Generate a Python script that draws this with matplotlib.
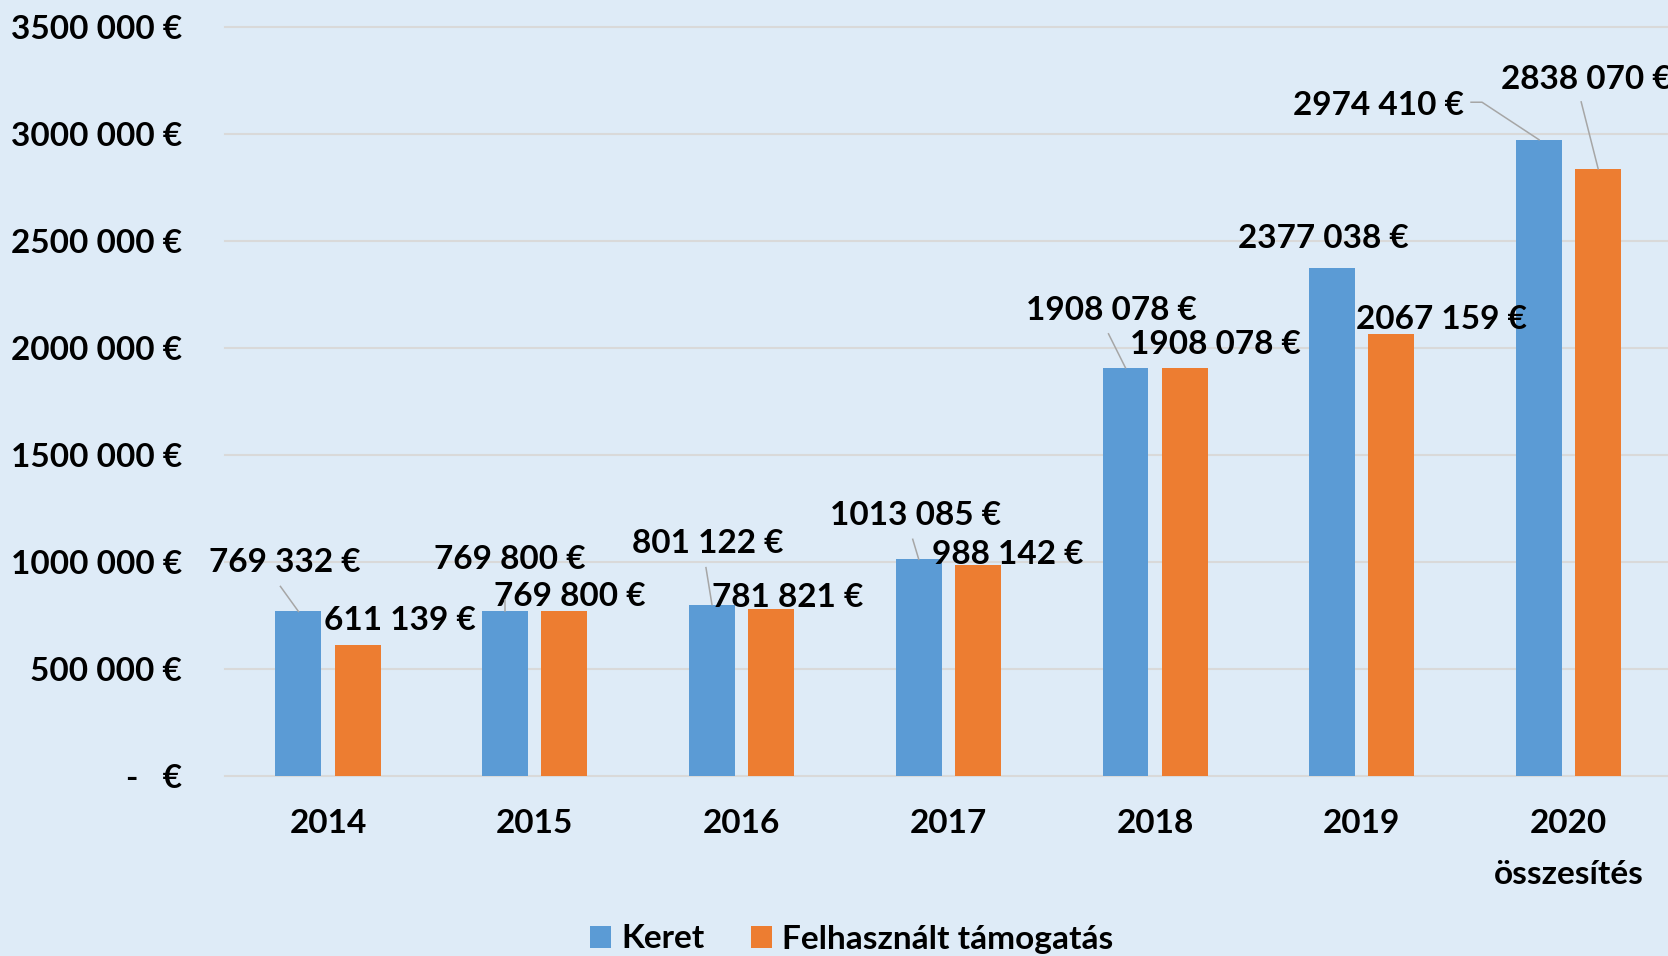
import matplotlib
matplotlib.use("Agg")
import matplotlib.pyplot as plt
import numpy as np
from matplotlib.lines import Line2D
from matplotlib.patches import Patch
from matplotlib.ticker import FuncFormatter, MultipleLocator
from matplotlib.transforms import IdentityTransform

plt.rcParams["font.family"] = ["Lato", "DejaVu Sans"]
plt.rcParams["font.weight"] = "bold"

# ---------------- data ----------------
categories = ["2014", "2015", "2016", "2017", "2018", "2019", "2020\nösszesítés"]
keret = [769332, 769800, 801122, 1013085, 1908078, 2377038, 2974410]
felhasznalt = [611139, 769800, 781821, 988142, 1908078, 2067159, 2838070]
series_names = ["Keret", "Felhasznált támogatás"]

# label offsets in pixels from bar-top centre (+x right, +y down)
keret_label_off = [(-14, -51), (5, -54), (-4, -64), (-3, -46), (-14.5, -60), (-9, -32), (-161, -36.5)]
keret_leaders = [[(-18, -25), (0, 0)], [(0, -11), (0, 0)], [(-6, -37), (0, 0)], [(-6, -20), (0, 0)],
                 [(-17, -34), (0, 0)], None, [(-68, -37.5), (-57, -37.5), (0, 0)]]
felh_label_off = [(42, -27), (5, -17), (17, -14), (30, -13), (31, -26), (50, -17), (-12, -92)]
felh_leaders = [None, None, None, None, None, None, [(-17, -67), (0, 0)]]

BG = "#DEEBF7"
BLUE = "#5B9BD5"
ORANGE = "#ED7D31"
GRID = "#D9D9D9"
LEADER = "#A6A6A6"
FS = 24


def eur(v):
    v = int(round(v))
    if v == 0:
        return "-   €"
    if v >= 1000:
        return f"{v // 1000} {v % 1000:03d} €"
    return f"{v} €"


W, H = 1668, 956
fig = plt.figure(figsize=(W / 100, H / 100), dpi=100, facecolor=BG)
ax = fig.add_axes([224.6 / W, 1 - 776 / H, (1672 - 224.6) / W, (776 - 27.3) / H])
ax.set_facecolor(BG)

x = np.arange(len(categories))
bw, off = 0.222, 0.143
ax.bar(x - off, keret, bw, color=BLUE, zorder=3)
ax.bar(x + off, felhasznalt, bw, color=ORANGE, zorder=3)

ax.set_xlim(-0.5, len(categories) - 0.5)
ax.set_ylim(0, 3500000)
ax.yaxis.set_major_locator(MultipleLocator(500000))
ax.yaxis.set_major_formatter(FuncFormatter(lambda v, p: eur(v)))
ax.grid(axis="y", color=GRID, lw=1.5, zorder=0)
ax.set_axisbelow(True)
for s in ax.spines.values():
    s.set_visible(False)
ax.set_xticks(x, categories)
ax.tick_params(axis="y", length=0, labelsize=FS, pad=30.5)
ax.tick_params(axis="x", length=0, labelsize=FS, pad=24)
for t in ax.get_xticklabels():
    t.set_fontweight("bold")
    t.set_linespacing(1.9)
for t in ax.get_yticklabels():
    t.set_fontweight("bold")
for gl in ax.yaxis.get_gridlines():
    gl.set_clip_on(False)

# data labels
BASE = 12  # baseline shift so digits are centred
for xi, v, (dx, dy) in zip(x - off, keret, keret_label_off):
    ax.annotate(eur(v), xy=(xi, v), xytext=(dx, -(dy + BASE)), textcoords="offset pixels",
                ha="center", va="baseline", fontsize=FS, fontweight="bold", annotation_clip=False, zorder=5)
for xi, v, (dx, dy) in zip(x + off, felhasznalt, felh_label_off):
    ax.annotate(eur(v), xy=(xi, v), xytext=(dx, -(dy + BASE)), textcoords="offset pixels",
                ha="center", va="baseline", fontsize=FS, fontweight="bold", annotation_clip=False, zorder=5)

# leader lines
def draw_leaders(xs, vals, leaders):
    for xi, v, pts in zip(xs, vals, leaders):
        if not pts:
            continue
        bx, by = ax.transData.transform((xi, v))
        px = [bx + p[0] for p in pts]
        py = [by - p[1] for p in pts]
        fig.add_artist(Line2D(px, py, transform=IdentityTransform(), color=LEADER, lw=1.1, zorder=4))

draw_leaders(x - off, keret, keret_leaders)
draw_leaders(x + off, felhasznalt, felh_leaders)

handles = [Patch(facecolor=BLUE), Patch(facecolor=ORANGE)]
fig.legend(handles, series_names, loc="center", bbox_to_anchor=(851.5 / W, 1 - 939 / H), ncol=2,
           frameon=False, prop=dict(weight="bold", size=FS), handlelength=0.63, handleheight=0.63,
           handletextpad=0.32, columnspacing=1.38, borderpad=0, borderaxespad=0)

fig.savefig("out.png", dpi=100, facecolor=BG)
